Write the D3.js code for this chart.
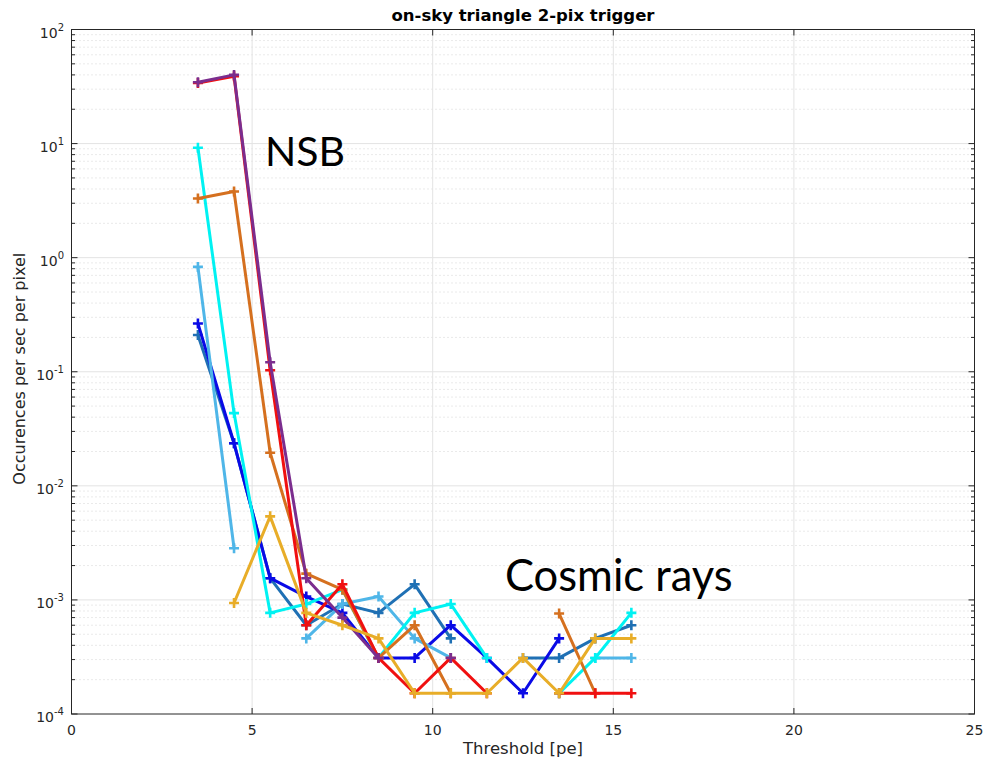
<!DOCTYPE html>
<html><head><meta charset="utf-8">
<script src="https://cdn.jsdelivr.net/npm/d3@7"></script>
<style>body{margin:0;background:#fff}svg{display:block}</style>
</head><body><svg id="c" width="986" height="759"></svg>
<script>
const thresholds = [3.5,4.5,5.5,6.5,7.5,8.5,9.5,10.5,11.5,12.5,13.5,14.5,15.5];
const xTicks = [0,5,10,15,20,25];
const yDecades = [-4,-3,-2,-1,0,1,2];
const seriesNames = ["steel","blue","lightblue","cyan","orange","red","purple","yellow"];
const seriesColors = ["#1f70b4","#0a0ae6","#4fb6e8","#00f2f2","#d5701f","#f01010","#7b2d8e","#e8ad28"];
const steel     = [0.21,0.0236,0.00155,0.0006,0.00092,0.00077,0.00137,0.00046,null,0.00031,0.00031,0.00046,0.0006];
const blue      = [0.265,0.0236,0.00155,0.00107,0.00077,0.00031,0.00031,0.0006,0.00031,0.000152,0.00046,null,null];
const lightblue = [0.83,0.00284,null,0.00046,0.00092,0.00107,0.00046,0.00031,null,null,null,0.00031,0.00031];
const cyan      = [9.2,0.0434,0.00077,0.00092,0.00123,0.00031,0.00077,0.00092,0.00031,null,0.000152,0.00031,0.00077];
const orange    = [3.3,3.8,0.0195,0.0017,0.00123,0.00031,0.0006,0.000152,null,null,0.00076,0.000152,null];
const red       = [34,39,0.103,0.0006,0.00137,0.00031,0.000152,0.00031,0.000152,null,0.000152,0.000152,0.000152];
const purple    = [34.5,40,0.121,0.00155,0.0007,0.00031,null,0.00031,null,null,null,null,null];
const yellow    = [null,0.00094,0.0054,0.00077,0.0006,0.00046,0.000152,0.000152,0.000152,0.00031,0.000152,0.00046,0.00046];
const seriesValues = [steel,blue,lightblue,cyan,orange,red,purple,yellow];

const svg = d3.select("#c");
const L=71.5, R=974.5, T=29.5, B=714;
const x = d3.scaleLinear().domain([0,25]).range([L,R]);
const y = d3.scaleLog().domain([1e-4,1e2]).range([B,T]);

const g = svg.append("g");
// minor dotted grid
const minors=[];
for (let d=-4; d<2; d++) for (let m=2; m<=9; m++) minors.push(m*Math.pow(10,d));
g.selectAll(".mg").data(minors).enter().append("line")
 .attr("x1",L).attr("x2",R).attr("y1",d=>y(d)).attr("y2",d=>y(d))
 .attr("stroke","#d4d4d4").attr("stroke-width",1).attr("stroke-dasharray","1,3");
// major grid
g.selectAll(".Mg").data(yDecades.slice(1,-1)).enter().append("line")
 .attr("x1",L).attr("x2",R).attr("y1",d=>y(Math.pow(10,d))).attr("y2",d=>y(Math.pow(10,d)))
 .attr("stroke","#e3e3e3").attr("stroke-width",1);
g.selectAll(".Vg").data(xTicks.slice(1,-1)).enter().append("line")
 .attr("y1",T).attr("y2",B).attr("x1",d=>x(d)).attr("x2",d=>x(d))
 .attr("stroke","#e3e3e3").attr("stroke-width",1);

// box
g.append("rect").attr("x",L).attr("y",T).attr("width",R-L).attr("height",B-T)
 .attr("fill","none").attr("stroke","#262626").attr("stroke-width",1);
// ticks
const tl=6, tm=3.5;
xTicks.forEach(t=>{
  g.append("line").attr("x1",x(t)).attr("x2",x(t)).attr("y1",B).attr("y2",B-tl).attr("stroke","#262626");
  g.append("line").attr("x1",x(t)).attr("x2",x(t)).attr("y1",T).attr("y2",T+tl).attr("stroke","#262626");
});
yDecades.forEach(d=>{
  const yy=y(Math.pow(10,d));
  g.append("line").attr("x1",L).attr("x2",L+tl).attr("y1",yy).attr("y2",yy).attr("stroke","#262626");
  g.append("line").attr("x1",R).attr("x2",R-tl).attr("y1",yy).attr("y2",yy).attr("stroke","#262626");
});
minors.forEach(v=>{
  const yy=y(v);
  g.append("line").attr("x1",L).attr("x2",L+tm).attr("y1",yy).attr("y2",yy).attr("stroke","#262626");
  g.append("line").attr("x1",R).attr("x2",R-tm).attr("y1",yy).attr("y2",yy).attr("stroke","#262626");
});
// tick labels
xTicks.forEach(t=>{
  g.append("text").attr("x",x(t)).attr("y",B+21).attr("text-anchor","middle")
   .attr("font-family","DejaVu Sans").attr("font-size",14).attr("fill","#262626").text(t);
});
yDecades.forEach(d=>{
  const yy=y(Math.pow(10,d));
  const t=g.append("text").attr("x",64).attr("y",yy+8).attr("text-anchor","end")
   .attr("font-family","DejaVu Sans").attr("font-size",14).attr("fill","#262626");
  t.append("tspan").text("10");
  t.append("tspan").attr("dy",-7).attr("font-size",10).text(d);
});
// titles
svg.append("text").attr("x",(L+R)/2).attr("y",21).attr("text-anchor","middle")
 .attr("font-family","DejaVu Sans").attr("font-weight","bold").attr("font-size",16.5).attr("fill","#000")
 .text("on-sky triangle 2-pix trigger");
svg.append("text").attr("x",(L+R)/2).attr("y",754).attr("text-anchor","middle")
 .attr("font-family","DejaVu Sans").attr("font-size",16.5).attr("fill","#262626").text("Threshold [pe]");
svg.append("text").attr("transform",`translate(25,${(T+B)/2 - 3}) rotate(-90)`).attr("text-anchor","middle")
 .attr("font-family","DejaVu Sans").attr("font-size",16).attr("fill","#262626").text("Occurences per sec per pixel");

// series
const line = d3.line().defined(d=>d.v!=null).x(d=>x(d.t)).y(d=>y(d.v));
seriesValues.forEach((vals,i)=>{
  const pts = thresholds.map((t,j)=>({t, v: vals[j]}));
  const c = seriesColors[i];
  g.append("path").datum(pts).attr("d",line).attr("fill","none").attr("stroke",c)
   .attr("stroke-width",3).attr("stroke-linejoin","round");
  const m = pts.filter(p=>p.v!=null);
  g.selectAll(null).data(m).enter().append("path")
   .attr("d",p=>{const cx=x(p.t), cy=y(p.v), r=5; return `M${cx-r},${cy}H${cx+r}M${cx},${cy-r}V${cy+r}`;})
   .attr("stroke",c).attr("stroke-width",2.6).attr("fill","none");
});

// annotations
svg.append("text").attr("x",265).attr("y",166).attr("font-family","Lato").attr("font-size",41).attr("fill","#000").text("NSB");
svg.append("text").attr("x",505).attr("y",591).attr("font-family","Lato").attr("font-size",43.5).attr("fill","#000").text("Cosmic rays");
</script></body></html>
